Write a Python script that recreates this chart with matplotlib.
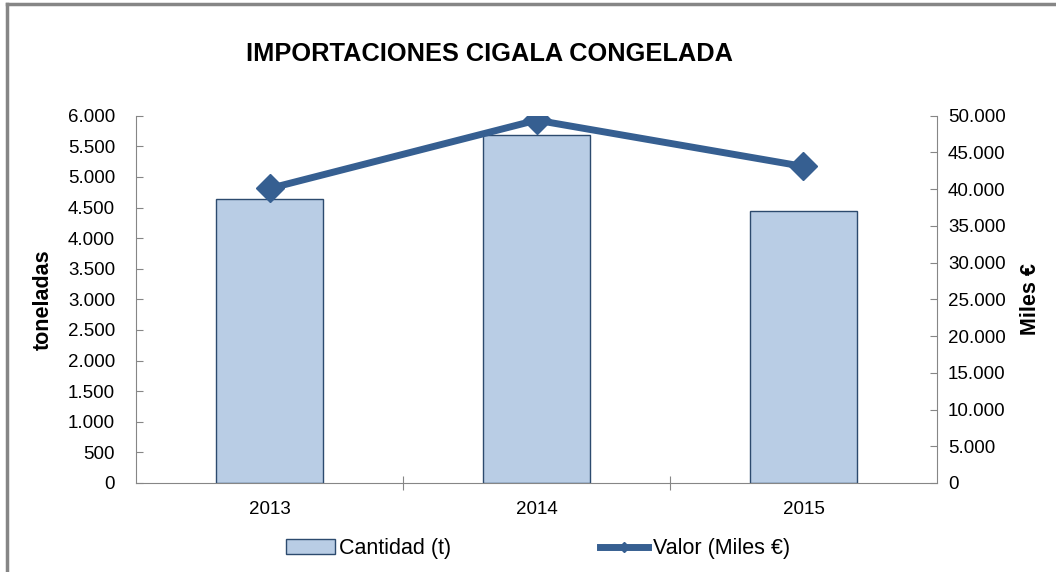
import matplotlib.pyplot as plt
from matplotlib.ticker import FuncFormatter, MultipleLocator
from matplotlib.lines import Line2D

plt.rcParams['font.family'] = ['Liberation Sans', 'DejaVu Sans']

# Datos
anios = ["2013", "2014", "2015"]
cantidad = [4640, 5680, 4450]        # toneladas
valor = [40100, 49400, 43100]        # miles de euros

color_barra = "#B9CDE5"
borde_barra = "#2C4A6E"
color_linea = "#365F91"
gris = "#868686"

def miles(x, pos):
    return f"{int(x):,}".replace(",", ".")

fig = plt.figure(figsize=(10.56, 5.72), dpi=100)
ax1 = fig.add_axes([0.1288, 0.1556, 0.7585, 0.642])

pos = range(len(anios))
barras = ax1.bar(pos, cantidad, width=0.4, color=color_barra, edgecolor=borde_barra,
                 linewidth=1, label="Cantidad (t)", zorder=2)

ax1.set_xlim(-0.5, 2.5)
ax1.set_ylim(0, 6000)
ax1.yaxis.set_major_locator(MultipleLocator(500))
ax1.yaxis.set_major_formatter(FuncFormatter(miles))
ax1.set_xticks([0.5, 1.5], minor=False)
ax1.set_xticklabels([])
ax1.set_xticks(list(pos), minor=True)
ax1.set_xticklabels(anios, minor=True)
ax1.tick_params(axis="x", which="minor", length=0, labelsize=13.5, pad=13)
ax1.tick_params(axis="x", which="major", direction="inout", length=10, color=gris)
ax1.tick_params(axis="y", direction="in", length=5, color=gris, labelsize=13.5, pad=15)
ax1.set_ylabel("toneladas", fontsize=15.5, fontweight="bold", labelpad=10)

for lado in ["top", "right"]:
    ax1.spines[lado].set_visible(False)
for lado in ["left", "bottom"]:
    ax1.spines[lado].set_color(gris)

# Segundo eje para el valor
ax2 = ax1.twinx()
ax2.plot(pos, valor, color=color_linea, linewidth=5, marker="D", markersize=14,
         label="Valor (Miles €)", zorder=3)
ax2.set_ylim(0, 50000)
ax2.yaxis.set_major_locator(MultipleLocator(5000))
ax2.yaxis.set_major_formatter(FuncFormatter(miles))
ax2.tick_params(axis="y", direction="in", length=5, color=gris, labelsize=13.5, pad=8)
ax2.set_ylabel("Miles €", fontsize=15.5, fontweight="bold", labelpad=10)
for lado in ["top", "left", "bottom"]:
    ax2.spines[lado].set_visible(False)
ax2.spines["right"].set_color(gris)

fig.text(0.4635, 0.905, "IMPORTACIONES CIGALA CONGELADA", ha="center", va="center",
         fontsize=18.3, fontweight="bold")

# Leyenda
h_linea = Line2D([], [], color=color_linea, linewidth=5, marker="D", markersize=5)
fig.legend([barras, h_linea], ["Cantidad (t)", "Valor (Miles €)"], loc="center",
           bbox_to_anchor=(0.5095, 0.041), ncol=2, frameon=False, fontsize=15.5,
           columnspacing=6.9, handlelength=2.25, handletextpad=0.2)

# Marco del gráfico
fig.add_artist(Line2D([0.007, 0.007], [0, 0.993], color=gris, linewidth=2.5))
fig.add_artist(Line2D([0.007, 1], [0.993, 0.993], color=gris, linewidth=2.5))

fig.savefig("out.png", dpi=100)
